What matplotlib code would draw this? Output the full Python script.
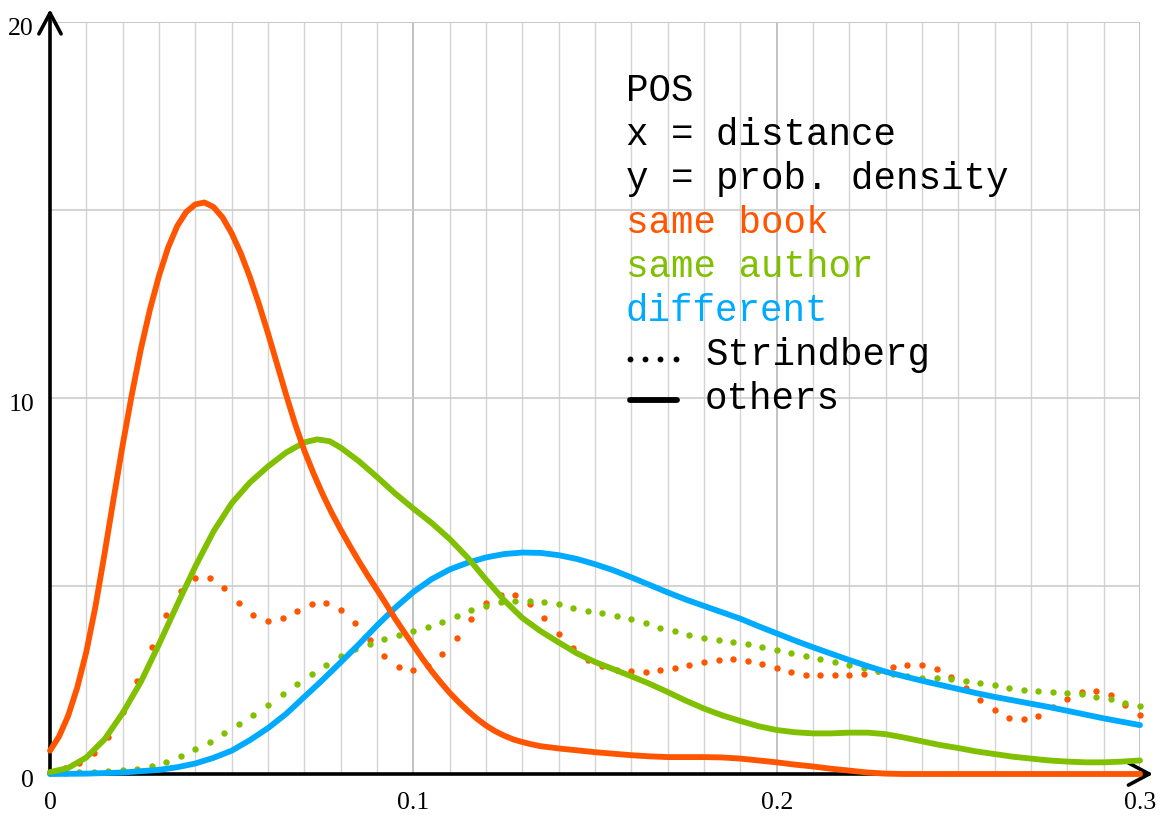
import numpy as np
import matplotlib
matplotlib.use("Agg")
import matplotlib.pyplot as plt

RED = "#ff5500"
GREEN = "#80c000"
BLUE = "#00aaff"

# Strindberg (dotted), one value every 0.004
dot_x = np.linspace(0, 0.3, 76)
book_strindberg = [0.05, 0.15, 0.30, 0.55, 0.99, 1.64, 2.47, 3.38, 4.23, 4.88,
                   5.22, 5.22, 4.94, 4.54, 4.22, 4.08, 4.14, 4.34, 4.52, 4.55,
                   4.37, 4.02, 3.57, 3.13, 2.85, 2.76, 2.88, 3.19, 3.62, 4.11,
                   4.54, 4.77, 4.77, 4.53, 4.15, 3.72, 3.35, 3.04, 2.86, 2.77,
                   2.73, 2.71, 2.76, 2.83, 2.91, 2.98, 3.03, 3.05, 3.00, 2.92,
                   2.81, 2.71, 2.64, 2.62, 2.62, 2.64, 2.67, 2.73, 2.84, 2.90,
                   2.90, 2.79, 2.57, 2.28, 1.97, 1.70, 1.50, 1.45, 1.55, 1.78,
                   1.99, 2.18, 2.21, 2.10, 1.84, 1.56]
author_strindberg = [0.02, 0.03, 0.04, 0.06, 0.08, 0.11, 0.14, 0.21, 0.33, 0.48,
                     0.66, 0.86, 1.08, 1.32, 1.58, 1.84, 2.12, 2.39, 2.66, 2.91,
                     3.13, 3.32, 3.47, 3.60, 3.71, 3.81, 3.92, 4.05, 4.20, 4.35,
                     4.48, 4.57, 4.61, 4.61, 4.58, 4.51, 4.42, 4.33, 4.27, 4.19,
                     4.11, 4.01, 3.89, 3.79, 3.70, 3.63, 3.57, 3.52, 3.45, 3.37,
                     3.29, 3.21, 3.13, 3.06, 2.98, 2.89, 2.81, 2.73, 2.66, 2.60,
                     2.56, 2.54, 2.52, 2.48, 2.43, 2.36, 2.30, 2.24, 2.20, 2.18,
                     2.15, 2.12, 2.06, 1.99, 1.90, 1.82]

# others (solid)
book_x = [0, 0.0025, 0.005, 0.0075, 0.01, 0.0125, 0.015, 0.0175, 0.02, 0.0225,
          0.025, 0.0275, 0.03, 0.0325, 0.035, 0.0375, 0.04, 0.0425, 0.045, 0.0475,
          0.05, 0.0525, 0.055, 0.0575, 0.06, 0.0625, 0.065, 0.0675, 0.07, 0.0725,
          0.075, 0.0775, 0.08, 0.0825, 0.085, 0.0875, 0.09, 0.0925, 0.095, 0.0975,
          0.1, 0.1025, 0.105, 0.1075, 0.11, 0.1125, 0.115, 0.1175, 0.12, 0.1225,
          0.125, 0.1275, 0.13, 0.1325, 0.135, 0.14, 0.145, 0.15, 0.155, 0.16,
          0.165, 0.17, 0.175, 0.18, 0.185, 0.19, 0.195, 0.2, 0.205, 0.21,
          0.215, 0.22, 0.225, 0.23, 0.235, 0.3]
book_others = [0.62, 1.00, 1.55, 2.30, 3.25, 4.45, 5.85, 7.32, 8.75, 10.08,
               11.30, 12.35, 13.25, 14.00, 14.57, 14.95, 15.15, 15.20, 15.08, 14.80,
               14.38, 13.85, 13.22, 12.50, 11.72, 10.90, 10.08, 9.30, 8.60, 8.00,
               7.45, 6.95, 6.50, 6.07, 5.66, 5.27, 4.90, 4.52, 4.13, 3.77,
               3.42, 3.07, 2.74, 2.44, 2.16, 1.91, 1.68, 1.47, 1.29, 1.14,
               1.02, 0.92, 0.85, 0.79, 0.74, 0.68, 0.63, 0.58, 0.54, 0.50,
               0.47, 0.45, 0.45, 0.45, 0.44, 0.41, 0.36, 0.31, 0.25, 0.20,
               0.14, 0.09, 0.04, 0.01, 0.0, 0.0]

author_x = [0, 0.005, 0.01, 0.015, 0.02, 0.025, 0.03, 0.035, 0.04, 0.045,
            0.05, 0.055, 0.06, 0.065, 0.07, 0.0735, 0.077, 0.08, 0.085, 0.09,
            0.095, 0.1, 0.105, 0.11, 0.115, 0.12, 0.125, 0.13, 0.135, 0.14,
            0.145, 0.15, 0.155, 0.16, 0.165, 0.17, 0.175, 0.18, 0.185, 0.19,
            0.195, 0.2, 0.205, 0.21, 0.215, 0.22, 0.225, 0.23, 0.235, 0.24,
            0.245, 0.25, 0.255, 0.26, 0.265, 0.27, 0.275, 0.28, 0.285, 0.29,
            0.295, 0.3]
author_others = [0.05, 0.16, 0.44, 0.92, 1.62, 2.45, 3.45, 4.50, 5.52, 6.45,
                 7.20, 7.75, 8.18, 8.55, 8.82, 8.90, 8.85, 8.68, 8.32, 7.90,
                 7.46, 7.06, 6.68, 6.25, 5.75, 5.17, 4.62, 4.15, 3.80, 3.50,
                 3.21, 2.98, 2.79, 2.60, 2.40, 2.18, 1.95, 1.74, 1.56, 1.41,
                 1.27, 1.17, 1.11, 1.08, 1.08, 1.10, 1.10, 1.06, 0.97, 0.87,
                 0.77, 0.69, 0.60, 0.53, 0.46, 0.41, 0.36, 0.33, 0.31, 0.31,
                 0.33, 0.36]

diff_x = [0, 0.01, 0.02, 0.03, 0.035, 0.04, 0.045, 0.05, 0.055, 0.06,
          0.065, 0.07, 0.075, 0.08, 0.085, 0.09, 0.095, 0.1, 0.105, 0.11,
          0.115, 0.12, 0.125, 0.13, 0.135, 0.14, 0.145, 0.15, 0.155, 0.16,
          0.165, 0.17, 0.175, 0.18, 0.185, 0.19, 0.195, 0.2, 0.205, 0.21,
          0.215, 0.22, 0.225, 0.23, 0.235, 0.24, 0.245, 0.25, 0.255, 0.26,
          0.265, 0.27, 0.275, 0.28, 0.285, 0.29, 0.295, 0.3]
diff_others = [0.0, 0.01, 0.04, 0.11, 0.18, 0.28, 0.43, 0.62, 0.90, 1.22,
               1.60, 2.05, 2.50, 2.97, 3.45, 3.95, 4.42, 4.84, 5.18, 5.44,
               5.62, 5.76, 5.85, 5.89, 5.88, 5.82, 5.72, 5.58, 5.42, 5.23,
               5.03, 4.83, 4.64, 4.47, 4.30, 4.13, 3.93, 3.74, 3.55, 3.37,
               3.20, 3.03, 2.87, 2.72, 2.60, 2.48, 2.37, 2.26, 2.15, 2.05,
               1.96, 1.87, 1.78, 1.68, 1.58, 1.48, 1.39, 1.30]

x_ticks = [0, 0.1, 0.2, 0.3]
x_labels = ["0", "0.1", "0.2", "0.3"]
y_ticks = [0, 10, 20]
y_labels = ["0", "10", "20"]

fig = plt.figure(figsize=(11.63, 8.16), dpi=100)
ax = fig.add_axes([50 / 1163, 42 / 816, 1090 / 1163, 752 / 816])
ax.set_xlim(0, 0.3)
ax.set_ylim(0, 20)
for s in ax.spines.values():
    s.set_visible(False)

# grid
ax.set_xticks(x_ticks)
ax.set_xticks(np.arange(0, 0.3001, 0.01), minor=True)
ax.set_yticks(y_ticks)
ax.set_yticks([5, 15], minor=True)
ax.grid(which="minor", axis="x", color="#d4d4d4", lw=1.0)
ax.grid(which="major", axis="x", color="#b8b8b8", lw=1.2)
ax.grid(which="both", axis="y", color="#cccccc", lw=1.2)
ax.axhline(20, color="#b4b4b4", lw=1.4, zorder=0.5)
ax.set_axisbelow(True)
ax.tick_params(which="both", length=0, labelbottom=False, labelleft=False)

serif = dict(family="Liberation Serif", fontsize=18.5, va="baseline")
for v, t in zip(x_ticks, x_labels):
    ax.annotate(t, xy=(v, 0), xycoords=("data", "axes fraction"), xytext=(0, -25.5),
                textcoords="offset points", ha="center", annotation_clip=False, **serif)
for v, t in zip(y_ticks, y_labels):
    ax.annotate(t, xy=(0, v), xycoords=("axes fraction", "data"), xytext=(-11.5, -9.5),
                textcoords="offset points", ha="right", annotation_clip=False, **serif)

# axes with arrow heads
arrow = dict(arrowstyle="->,head_length=1.5,head_width=0.8", lw=2.6, color="black",
             shrinkA=0, shrinkB=0)
ax.annotate("", xy=(0, 1.017), xytext=(0, 0), xycoords="axes fraction",
            arrowprops=arrow, zorder=1)
ax.annotate("", xy=(1.012, 0), xytext=(0, 0), xycoords="axes fraction",
            arrowprops=arrow, zorder=1)

# Strindberg dots
ax.plot(dot_x, book_strindberg, ls="none", marker="o", ms=4.6, mew=0, color=RED,
        clip_on=False, zorder=3)
ax.plot(dot_x, author_strindberg, ls="none", marker="o", ms=4.6, mew=0, color=GREEN,
        clip_on=False, zorder=3)

# others
lw = 4.2
ax.plot(diff_x, diff_others, color=BLUE, lw=lw, solid_capstyle="round",
        solid_joinstyle="round", clip_on=False, zorder=4)
ax.plot(author_x, author_others, color=GREEN, lw=lw, solid_capstyle="round",
        solid_joinstyle="round", clip_on=False, zorder=4)
ax.plot(book_x, book_others, color=RED, lw=lw, solid_capstyle="round",
        solid_joinstyle="round", clip_on=False, zorder=4)

# legend block
mono = dict(family="Liberation Mono", fontsize=27, va="baseline")
lines = ["POS", "x = distance", "y = prob. density", "same book", "same author", "different"]
colors = ["black", "black", "black", RED, GREEN, BLUE]
for i, (t, c) in enumerate(zip(lines, colors)):
    ax.text(0.1585, 17.9 - i * 1.17, t, color=c, zorder=5, **mono)
ax.text(0.1803, 17.9 - 6 * 1.17, "Strindberg", color="black", zorder=5, **mono)
ax.text(0.1803, 17.9 - 7 * 1.17, "others", color="black", zorder=5, **mono)
ax.plot([0.1597, 0.1638, 0.1679, 0.1723], [11.05] * 4, ls="none", marker="o", ms=4.2,
        mew=0, color="black", zorder=5)
ax.plot([0.1597, 0.1725], [9.95, 9.95], color="black", lw=lw, solid_capstyle="round", zorder=5)

fig.savefig("out.png", dpi=100)
